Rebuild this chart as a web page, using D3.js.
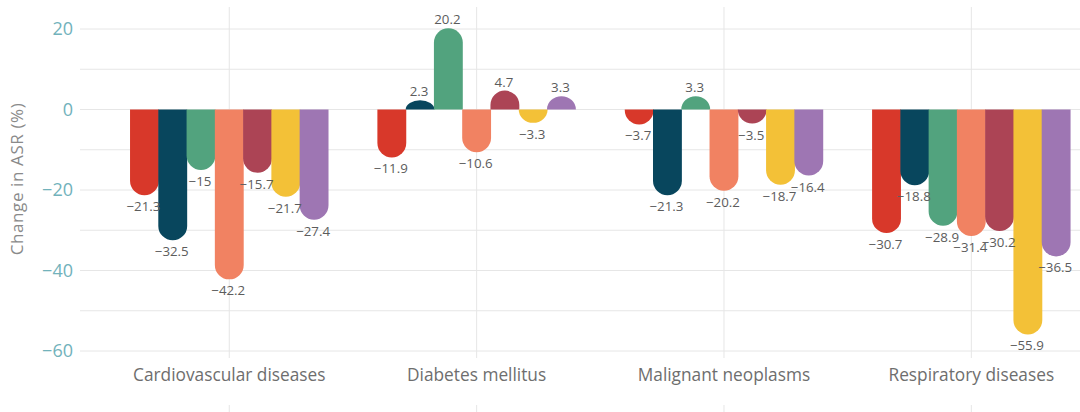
<!DOCTYPE html>
<html><head><meta charset="utf-8">
<script src="https://cdn.jsdelivr.net/npm/d3@7"></script>
<style>html,body{margin:0;padding:0;background:#fff;}svg{display:block;}</style>
</head><body><svg id="c" width="1080" height="412"></svg>
<script>
const categories = ["Cardiovascular diseases","Diabetes mellitus","Malignant neoplasms","Respiratory diseases"];
const seriesNames = ["Group 1","Group 2","Group 3","Group 4","Group 5","Group 6","Group 7"];
const seriesColors = ["#D8382A","#08465D","#52A37E","#F18262","#AC4455","#F3C137","#9E76B3"];
const cardiovascular = [-21.3,-32.5,-15,-42.2,-15.7,-21.7,-27.4];
const diabetes = [-11.9,2.3,20.2,-10.6,4.7,-3.3,3.3];
const malignant = [-3.7,-21.3,3.3,-20.2,-3.5,-18.7,-16.4];
const respiratory = [-30.7,-18.8,-28.9,-31.4,-30.2,-55.9,-36.5];
const yTicks = [20,0,-20,-40,-60];
const gridTicks = [20,10,0,-10,-20,-30,-40,-50,-60];

const values = [cardiovascular, diabetes, malignant, respiratory];
const svg = d3.select("#c");
const font = "'Open Sans', sans-serif";

const x = d3.scaleBand().domain(categories).range([105.6, 1095]).paddingInner(0.2).paddingOuter(0.1);
const xi = d3.scaleBand().domain(seriesNames).range([0, x.bandwidth()]).padding(0);
const y = d3.scaleLinear().domain([-60, 20]).range([351, 29]);

// horizontal grid
svg.append("g").selectAll("line").data(gridTicks).join("line")
  .attr("x1", 80).attr("x2", 1080)
  .attr("y1", d => y(d)).attr("y2", d => y(d))
  .attr("stroke", "#e6e6e6").attr("stroke-width", 1);
// vertical grid
svg.append("g").selectAll("line").data(categories).join("line")
  .attr("x1", d => x(d) + x.bandwidth()/2).attr("x2", d => x(d) + x.bandwidth()/2)
  .attr("y1", 7).attr("y2", 358)
  .attr("stroke", "#e6e6e6").attr("stroke-width", 1);
svg.append("g").selectAll("line").data(categories).join("line")
  .attr("x1", d => x(d) + x.bandwidth()/2).attr("x2", d => x(d) + x.bandwidth()/2)
  .attr("y1", 405).attr("y2", 412)
  .attr("stroke", "#e6e6e6").attr("stroke-width", 1);

// y tick labels
const fmt = v => String(v).replace("-", "\u2212");
svg.append("g").selectAll("text").data(yTicks).join("text")
  .attr("x", 73).attr("y", d => y(d)).attr("dy", "0.35em")
  .attr("text-anchor", "end").attr("font-family", font).attr("font-size", 18)
  .attr("fill", "#72B2BB").text(fmt);

svg.append("text").attr("transform", "translate(23,179) rotate(-90)")
  .attr("text-anchor", "middle").attr("font-family", font).attr("font-size", 17)
  .attr("letter-spacing", 0.6)
  .attr("fill", "#8a8a8a").text("Change in ASR (%)");

// category labels
svg.append("g").selectAll("text").data(categories).join("text")
  .attr("x", d => x(d) + x.bandwidth()/2).attr("y", 381)
  .attr("text-anchor", "middle").attr("font-family", font).attr("font-size", 17.3)
  .attr("fill", "#6e6e6e").text(d => d);

function barPath(x0, w, v) {
  const y0 = y(0), y1 = y(v);
  const h = Math.abs(y1 - y0);
  const rx = w / 2, ry = Math.min(w / 2, h);
  if (v >= 0) {
    return `M${x0},${y0} L${x0},${y1 + ry} A${rx},${ry} 0 0 1 ${x0 + w},${y1 + ry} L${x0 + w},${y0} Z`;
  } else {
    return `M${x0},${y0} L${x0},${y1 - ry} A${rx},${ry} 0 0 0 ${x0 + w},${y1 - ry} L${x0 + w},${y0} Z`;
  }
}

const flat = [];
categories.forEach((c, ci) => seriesNames.forEach((s, si) => flat.push({c, s, si, v: values[ci][si]})));

const bw = xi.bandwidth();
svg.append("g").selectAll("path").data(flat).join("path")
  .attr("d", d => barPath(x(d.c) + xi(d.s) - 0.3, bw + 0.6, d.v))
  .attr("fill", d => seriesColors[d.si]);

svg.append("g").selectAll("text").data(flat).join("text")
  .attr("x", d => x(d.c) + xi(d.s) + bw/2 - 1)
  .attr("y", d => d.v >= 0 ? y(d.v) - 4 : y(d.v) + 16)
  .attr("text-anchor", "middle").attr("font-family", font).attr("font-size", 13.3)
  .attr("fill", "#5c5c5c").text(d => fmt(d.v));
</script></body></html>
